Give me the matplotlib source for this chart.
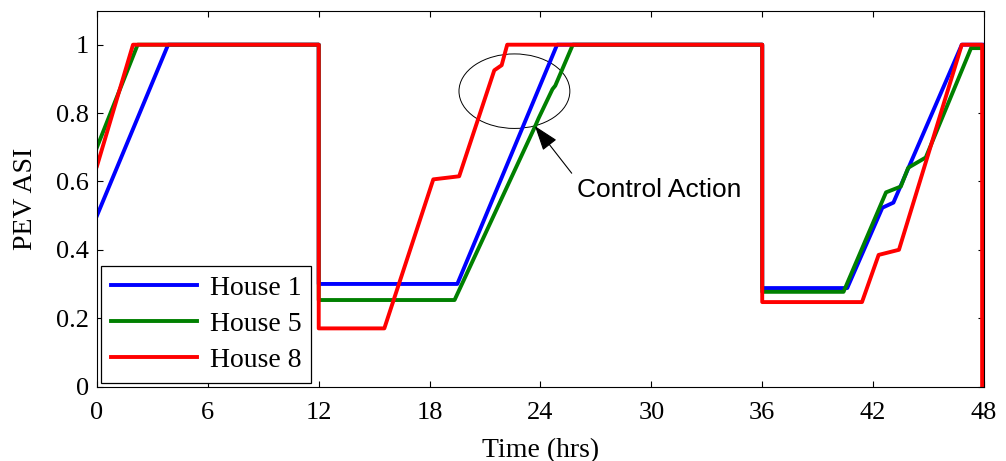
import numpy as np
import matplotlib
matplotlib.use("Agg")
import matplotlib.pyplot as plt
from matplotlib.patches import Ellipse

plt.rcParams['font.family'] = ['Liberation Serif', 'DejaVu Serif']

# PEV ASI traces (time in hrs, ASI in p.u.)
t_house1 = [0, 3.85, 12, 12, 19.5, 24.9, 36, 36, 40.6, 42.5, 43.1, 46.8, 48]
asi_house1 = [0.50, 1.0, 1.0, 0.30, 0.30, 1.0, 1.0, 0.288, 0.288, 0.523, 0.538, 1.0, 1.0]

t_house5 = [0, 2.2, 12, 12, 19.35, 23.7, 23.9, 24.65, 24.8, 25.75, 36, 36,
            40.4, 42.7, 43.5, 43.9, 44.85, 47.3, 48]
asi_house5 = [0.70, 1.0, 1.0, 0.253, 0.253, 0.76, 0.785, 0.87, 0.88, 1.0, 1.0, 0.277,
              0.277, 0.568, 0.585, 0.64, 0.67, 0.99, 0.99]

t_house8 = [0, 1.95, 12, 12, 15.55, 18.2, 19.6, 21.5, 21.9, 22.2, 36, 36,
            41.4, 42.3, 43.4, 46.8, 47.9, 47.9]
asi_house8 = [0.645, 1.0, 1.0, 0.17, 0.17, 0.606, 0.615, 0.925, 0.94, 1.0, 1.0, 0.247,
              0.247, 0.385, 0.40, 1.0, 1.0, 0.0]

labels = ["House 1", "House 5", "House 8"]
xticks = [0, 6, 12, 18, 24, 30, 36, 42, 48]
yticks = [0, 0.2, 0.4, 0.6, 0.8, 1]
yticklabels = ["0", "0.2", "0.4", "0.6", "0.8", "1"]

fig = plt.figure(figsize=(10.06, 4.61), dpi=100)
ax = fig.add_axes([0.0964, 0.1616, 0.8817, 0.8156])

ax.plot(t_house1, asi_house1, color=(0, 0, 1), lw=2.8, label=labels[0])
ax.plot(t_house5, asi_house5, color=(0, 0.5, 0), lw=2.8, label=labels[1])
ax.plot(t_house8, asi_house8, color=(1, 0, 0), lw=2.8, label=labels[2])

# circled region + arrow
ax.add_patch(Ellipse((22.59, 0.864), 6.0, 0.218, fill=False, ec='k', lw=0.7))
ax.annotate('', xy=(23.7, 0.762), xytext=(25.69, 0.624),
            arrowprops=dict(arrowstyle='-|>,head_length=1.3,head_width=0.45', color='k',
                            lw=0.8, mutation_scale=12, shrinkA=0, shrinkB=0))
ax.text(25.97, 0.574, "Control Action", family=['Liberation Sans', 'DejaVu Sans'],
        fontsize=19, va='center', ha='left')

ax.set_xlim(0, 48)
ax.set_ylim(0, 1.1)
ax.set_xticks(xticks)
ax.set_yticks(yticks)
ax.set_yticklabels(yticklabels)
ax.tick_params(direction='in', top=True, right=True, length=4, width=0.8, labelsize=19)
ax.tick_params(axis='x', pad=11)
ax.tick_params(axis='y', pad=6)
for s in ax.spines.values():
    s.set_linewidth(0.8)

ax.set_xlabel("Time (hrs)", fontsize=20, labelpad=10)
ax.set_ylabel("PEV ASI", fontsize=20, labelpad=13)

leg = ax.legend(loc='lower left', bbox_to_anchor=(0.005, 0.01), borderaxespad=0,
                fontsize=20, fancybox=False, framealpha=1, edgecolor='k',
                handlelength=3.1, handletextpad=0.45, labelspacing=0.38, borderpad=0.35)
leg.get_frame().set_linewidth(0.9)

plt.savefig("out.png", dpi=100)
